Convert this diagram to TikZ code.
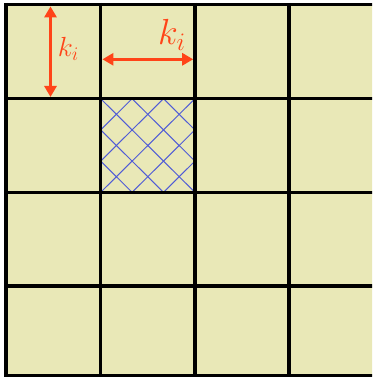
\documentclass[tikz,border=0pt]{standalone}
\usepackage{tikz}
\usetikzlibrary{arrows.meta,positioning}
\definecolor{cellclr}{RGB}{233,232,183}
\definecolor{hatchclr}{RGB}{80,92,214}
\definecolor{dimclr}{RGB}{255,68,24}
\tikzset{
    gridline/.style={line width=3.5pt,draw=black},
    hatchline/.style={draw=hatchclr,line width=1pt},
    dimarrow/.style={{Triangle[length=11pt,width=12pt]}-{Triangle[length=11pt,width=12pt]},draw=dimclr,line width=3pt},
    klabel/.style={text=dimclr,inner sep=0pt,font=\LARGE},
}

\begin{document}
\begin{tikzpicture}[x=1pt,y=-1pt]
\useasboundingbox (0,0) rectangle (372,377);
\begin{scope}
\clip (0,0) rectangle (372,377);
\fill[cellclr] (6.2,4.7) rectangle (400,376);
% hatched cell
\begin{scope}
  \clip (100.7,98.7) rectangle (194.9,192.3);
  \begin{scope}[shift={(100.7,98.7)},x=31.4pt,y=-31.2pt]
    \foreach \k in {-3,...,6} {
      \draw[hatchline] (\k,0) -- ++(3,3);
      \draw[hatchline] (\k,0) -- ++(-3,3);
    }
  \end{scope}
\end{scope}
% grid
\foreach \x in {6.2,100.7,194.9,289.2,383.5}
  \draw[gridline] (\x,3) -- (\x,380);
\foreach \y in {4.7,98.7,192.3,286,375.8}
  \draw[gridline] (4.5,\y) -- (400,\y);
\end{scope}
% cell size marks
\coordinate (vtop) at (50.5,6.4);
\coordinate (vbot) at (50.5,97);
\draw[dimarrow] (vtop) -- (vbot);
\node[klabel,scale=1.6] (kv) at (68.5,49) {$k_i$};
\coordinate (hlft) at (102.4,59.3);
\coordinate (hrgt) at (193.2,59.3);
\draw[dimarrow] (hlft) -- (hrgt);
\node[klabel,scale=2.1] (kh) at (172,35) {$k_i$};
\end{tikzpicture}
\end{document}
